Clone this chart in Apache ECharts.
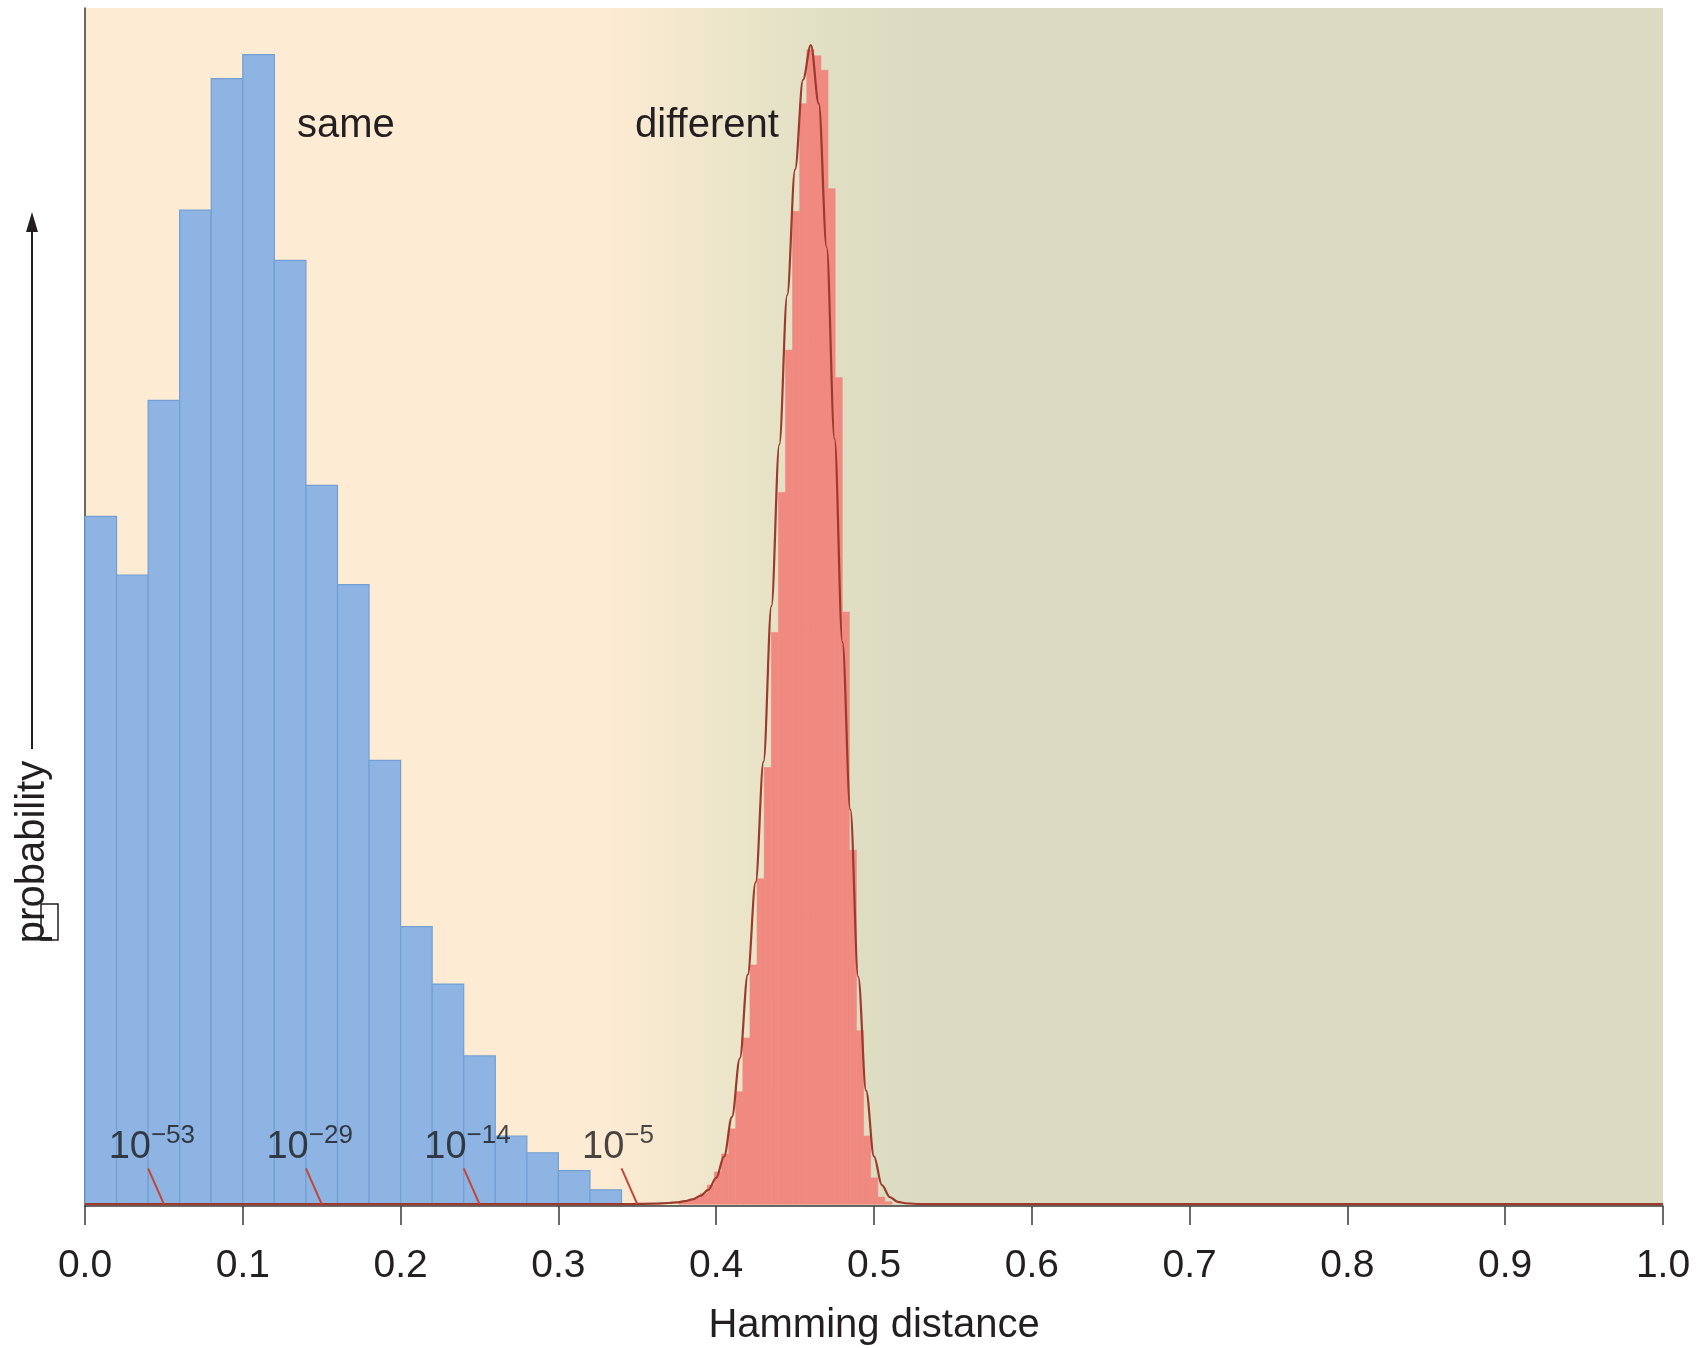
<!DOCTYPE html>
<html>
<head>
<meta charset="utf-8">
<title>Hamming distance</title>
<script src="https://cdn.jsdelivr.net/npm/echarts@6/dist/echarts.min.js"></script>
<style>
  html, body { margin: 0; padding: 0; background: #fff; }
  #chart { width: 1702px; height: 1348px; }
</style>
</head>
<body>
<div id="chart"></div>
<script>
// "same" histogram: bin left edges (width 0.02) and heights (arbitrary units)
const sameBins = [0, 0.02, 0.04, 0.06, 0.08, 0.10, 0.12, 0.14, 0.16, 0.18, 0.20, 0.22, 0.24, 0.26, 0.28, 0.30, 0.32];
const sameHeights = [57.5, 52.6, 67.2, 83.1, 94.1, 96.1, 78.9, 60.1, 51.8, 37.1, 23.2, 18.4, 12.4, 5.7, 4.3, 2.8, 1.2];
const sameWidth = 0.02;

// "different" histogram: narrow bins
const diffBins = [0.3764, 0.3809, 0.3854, 0.3899, 0.3944, 0.3989, 0.4034, 0.4079, 0.4124, 0.4169,
  0.4214, 0.4259, 0.4304, 0.4349, 0.4394, 0.4439, 0.4484, 0.4529, 0.4574, 0.4619,
  0.4664, 0.4709, 0.4754, 0.4799, 0.4844, 0.4889, 0.4934, 0.4979, 0.5024, 0.5069];
const diffHeights = [0.15, 0.3, 0.5, 0.9, 1.6, 2.7, 4.2, 6.3, 9.4, 13.9,
  20.0, 27.2, 36.5, 47.8, 59.5, 71.4, 83.0, 92.0, 96.5, 96.0,
  94.8, 84.9, 69.1, 49.5, 29.6, 14.5, 5.7, 2.2, 0.6, 0.2];
const diffWidth = 0.0045;

// fitted curve of the "different" distribution
const fitX = [0, 0.34, 0.36, 0.37, 0.375, 0.38, 0.385, 0.39, 0.395, 0.4,
  0.405, 0.41, 0.415, 0.42, 0.425, 0.43, 0.435, 0.44, 0.445, 0.45,
  0.455, 0.46, 0.465, 0.47, 0.475, 0.48, 0.485, 0.49, 0.495, 0.5,
  0.505, 0.51, 0.515, 0.52, 0.53, 1.0];
const fitY = [0, 0, 0.05, 0.1, 0.15, 0.25, 0.4, 0.7, 1.2, 2.2,
  4.0, 7.3, 12.2, 19.2, 26.9, 37, 50, 63.5, 76, 86.5,
  94.0, 96.9, 92, 80, 64, 47, 33, 19, 9.5, 4.0,
  1.6, 0.6, 0.2, 0.08, 0, 0];

// tail probabilities of the fitted curve
const pointerX = [0.05, 0.15, 0.25, 0.35];
const pointerExp = ['−53', '−29', '−14', '−5'];

const textColor = '#231f20';
const font = 'Liberation Sans, Arial, sans-serif';

function histItem(width, fill, stroke, lw) {
  return function (params, api) {
    const x0 = api.value(0);
    const h = api.value(1);
    const p0 = api.coord([x0, h]);
    const p1 = api.coord([x0 + width, 0]);
    return {
      type: 'rect',
      shape: { x: p0[0], y: p0[1], width: p1[0] - p0[0], height: p1[1] - p0[1] },
      style: { fill: fill, stroke: stroke, lineWidth: lw }
    };
  };
}

const pointerSeries = pointerX.map(x => ({
  type: 'line',
  data: [[x - 0.01, 3.0], [x, 0]],
  showSymbol: false,
  symbol: 'none',
  silent: true,
  z: 5,
  lineStyle: { color: '#c4463a', width: 2 }
}));

const chart = echarts.init(document.getElementById('chart'));

const option = {
  animation: false,
  backgroundColor: '#ffffff',
  textStyle: { fontFamily: font, color: textColor },
  grid: {
    left: 85, right: 39, top: 8, bottom: 142,
    show: true, borderWidth: 0,
    outerBoundsMode: 'none',
    backgroundColor: {
      type: 'linear', x: 0, y: 0, x2: 1, y2: 0,
      colorStops: [
        { offset: 0, color: '#fdebd3' },
        { offset: 0.33, color: '#fdebd3' },
        { offset: 0.40, color: '#eee6ca' },
        { offset: 0.47, color: '#e0dfc4' },
        { offset: 0.53, color: '#dbdbc1' },
        { offset: 1, color: '#dadbc0' }
      ]
    }
  },
  xAxis: {
    type: 'value', min: 0, max: 1, interval: 0.1,
    name: 'Hamming distance', nameLocation: 'middle', nameGap: 100,
    nameTextStyle: { fontSize: 40, color: textColor, fontFamily: font },
    axisLine: { onZero: false, lineStyle: { color: '#3a3a3a', width: 1.5 } },
    axisTick: { show: true, length: 19, lineStyle: { color: '#3a3a3a', width: 1.5 } },
    axisLabel: { fontSize: 39, color: textColor, margin: 41, fontFamily: font,
      formatter: v => v.toFixed(1) },
    splitLine: { show: false }
  },
  yAxis: {
    type: 'value', min: -0.15, max: 100,
    axisLine: { show: true, onZero: false, lineStyle: { color: '#3a3a3a', width: 1.5 } },
    axisTick: { show: false },
    axisLabel: { show: false },
    splitLine: { show: false }
  },
  series: [
    {
      type: 'custom',
      renderItem: histItem(sameWidth, '#8db4e2', '#739fd3', 1.2),
      data: sameBins.map((x, i) => [x, sameHeights[i]]),
      encode: { x: 0, y: 1 },
      silent: true,
      z: 2
    },
    {
      type: 'custom',
      renderItem: histItem(diffWidth, '#f08a81', '#f08a81', 0.6),
      data: diffBins.map((x, i) => [x, diffHeights[i]]),
      encode: { x: 0, y: 1 },
      silent: true,
      z: 2
    },
    {
      type: 'line',
      data: fitX.map((x, i) => [x, fitY[i]]),
      smooth: 0.35,
      smoothMonotone: 'x',
      showSymbol: false,
      symbol: 'none',
      silent: true,
      z: 4,
      lineStyle: { color: '#9c3a2c', width: 2.2 }
    },
    ...pointerSeries,
    {
      type: 'scatter',
      symbolSize: 0,
      silent: true,
      z: 6,
      data: pointerX.map((x, i) => ({ name: pointerExp[i], value: [x - 0.035, 5.0] })),
      label: {
        show: true,
        position: [0, 0],
        align: 'left',
        verticalAlign: 'middle',
        color: textColor,
        formatter: p => '{base|10}{sup|' + p.name + '}',
        rich: {
          base: { fontSize: 38, lineHeight: 44, verticalAlign: 'bottom', color: '#1c1a1a', fontFamily: font },
          sup: { fontSize: 26, lineHeight: 27, verticalAlign: 'top', color: '#1c1a1a', fontFamily: font }
        }
      }
    }
  ],
  graphic: [
    { type: 'text', x: 297, y: 126, silent: true,
      style: { text: 'same', fontSize: 40, fontFamily: font, fill: textColor, align: 'left', verticalAlign: 'middle' } },
    { type: 'text', x: 635, y: 126, silent: true,
      style: { text: 'different', fontSize: 40, fontFamily: font, fill: textColor, align: 'left', verticalAlign: 'middle' } },
    { type: 'text', x: 33, y: 852, rotation: Math.PI / 2, silent: true,
      style: { text: 'probability', fontSize: 40, fontFamily: font, fill: textColor, align: 'center', verticalAlign: 'middle' } },
    { type: 'line', silent: true, shape: { x1: 32, y1: 749, x2: 32, y2: 228 },
      style: { stroke: textColor, lineWidth: 2 } },
    { type: 'polygon', silent: true, shape: { points: [[32, 212], [26, 232], [38, 232]] },
      style: { fill: textColor } },
    { type: 'rect', silent: true, shape: { x: 41, y: 904, width: 17, height: 36 },
      style: { fill: 'none', stroke: textColor, lineWidth: 1.5 } }
  ]
};

chart.setOption(option);
</script>
</body>
</html>
